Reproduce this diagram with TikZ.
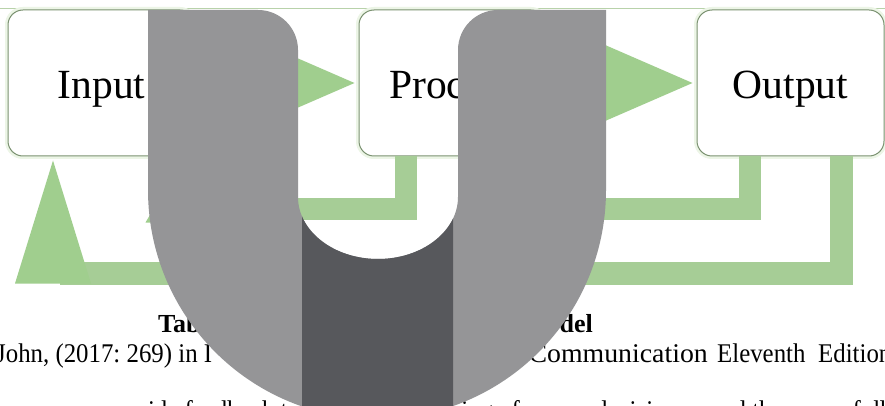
\documentclass[tikz,border=0pt]{standalone}
\usepackage{fontspec}
\usepackage{graphicx}
\setmainfont{Liberation Serif}
\usetikzlibrary{calc}
\definecolor{arrowgreen}{RGB}{160,206,142}
\definecolor{bargreen}{RGB}{166,205,150}
\definecolor{boxline}{RGB}{122,145,112}
\definecolor{boxglow}{RGB}{236,245,230}
\definecolor{topline}{RGB}{184,210,170}
\definecolor{ulight}{RGB}{149,149,151}
\definecolor{udark}{RGB}{87,88,92}
\tikzset{
  procbox/.style={draw=boxline, line width=1pt, fill=white, rounded corners=15pt,
    preaction={draw=boxglow, line width=6pt},
    minimum width=187pt, minimum height=146pt, inner sep=0pt,
    text height=32pt, text depth=0pt, font=\fontsize{41.5}{48}\selectfont},
  fwdarrow/.style={fill=arrowgreen},
  fbbar/.style={draw=bargreen, line width=22.5pt},
  captb/.style={inner sep=0pt, font=\fontsize{26}{30}\selectfont\bfseries},
  capt/.style={inner sep=0pt, font=\fontsize{27}{30}\selectfont\frenchspacing},
}
\begin{document}
\begin{tikzpicture}[x=1pt,y=-1pt]
\useasboundingbox (0,0) rectangle (885,406);
\clip (0,0) rectangle (885,406);
\fill[white] (0,0) rectangle (885,406);
% faint top line
\draw[topline, line width=1.5pt] (0,8.5) -- (885,8.5);
% boxes
\node[procbox] (input) at (101.5,83) {Input};
\node[procbox] (process) at (452.5,83) {Process};
\node[procbox] (output) at (790.5,83) {Output};
% forward arrows
\fill[fwdarrow] ($(process.west)+(-4,0)$) -- ++(-115,-50) -- ++(0,100) -- cycle;
\fill[fwdarrow] ($(output.west)+(-4,0)$) -- ++(-115,-50) -- ++(0,100) -- cycle;
% feedback from process
\coordinate (pfb) at (150,209);
\draw[fbbar] ([xshift=-46.5pt]process.south) |- (pfb);
\fill[fwdarrow] ($(input.south)+(81,4)$) -- ++(-37,62) -- ++(74,0) -- cycle;
% feedback from output (upper)
\coordinate (ofb) at (540,209);
\draw[fbbar] ([xshift=-40.5pt]output.south) |- (ofb);
\fill[fwdarrow] ($(process.south)+(62,4)$) -- ++(-37,62) -- ++(74,0) -- cycle;
% feedback from output (lower)
\coordinate (lfb) at (60,273.5);
\draw[fbbar] ([xshift=51pt]output.south) |- (lfb);
\fill[fwdarrow] ($(input.south)+(-48.5,4)$) -- ++(-38,123) -- ++(76,0) -- cycle;
% caption
\node[captb, anchor=base west] (tab) at (158,332) {Tab};
\node[captb, anchor=base east] (odel) at (593,332) {odel};
\node[capt, anchor=base west] (john) at (-4,362) {\scalebox{0.92}[1]{John, (2017: 269) in I}};
\node[capt, anchor=base east] (comm) at (708,362) {\scalebox{1.03}[1]{Communication}};
\node[capt, anchor=base west] (elev) at (717,362) {\scalebox{0.92}[1]{Eleventh}};
\node[capt, anchor=base west] (edit) at (818,362) {\scalebox{0.92}[1]{Edition}};
% third line, only tops visible
\node[capt, anchor=base east] (prov) at (300,419) {\scalebox{0.92}[1]{provide feedback to}};
\node[capt, anchor=base west] (think) at (410,419) {\scalebox{0.92}[1]{thinking of a}};
\node[capt, anchor=base west] (deci) at (595,419) {\scalebox{0.92}[1]{decisions}};
\node[capt, anchor=base west] (andt) at (710,419) {\scalebox{0.92}[1]{and those}};
\node[capt, anchor=base west] (ofd) at (840,419) {\scalebox{0.92}[1]{of dli}};
% U overlay
\def\Upath{(148,10) -- (258,10) arc[start angle=-90,end angle=0,radius=40]
  -- (298,197) arc[start angle=180,end angle=0,x radius=80,y radius=62]
  -- (458,50) arc[start angle=180,end angle=270,radius=40]
  -- (606,10) -- (606,190) arc[start angle=0,end angle=180,radius=229] -- cycle}
\fill[ulight] \Upath;
\begin{scope}
  \clip (302,150) rectangle (453,430);
  \fill[udark] \Upath;
\end{scope}
\end{tikzpicture}
\end{document}
